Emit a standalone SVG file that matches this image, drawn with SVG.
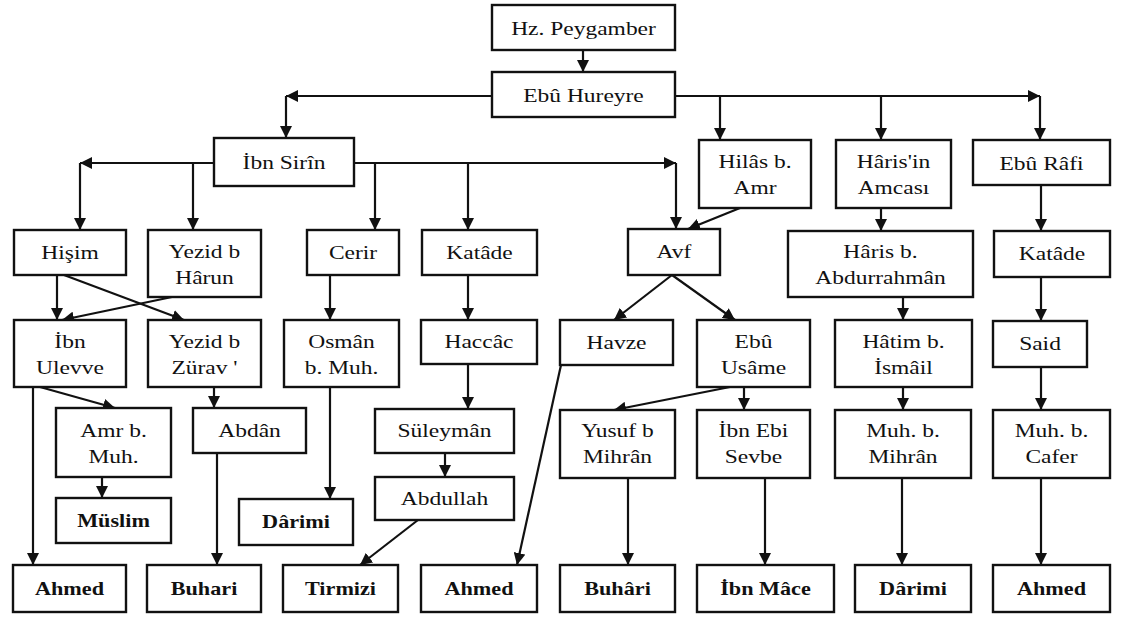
<svg xmlns="http://www.w3.org/2000/svg" width="1125" height="619" viewBox="0 0 1125 619">
  <style>
    .box { fill: #fff; stroke: #111; stroke-width: 2.4; }
    .t { font-family: "Liberation Serif", "Times New Roman", serif; font-size: 18.5px; fill: #111; text-anchor: middle; }
    .b { font-weight: bold; }
    .edge { fill: none; stroke: #111; stroke-width: 2.2; }
  </style>
  <defs>
    <marker id="arrow" viewBox="0 0 10 10" refX="10" refY="5" markerWidth="12" markerHeight="12" markerUnits="userSpaceOnUse" orient="auto">
      <path d="M0,0 L10,5 L0,10 z" fill="#111"/>
    </marker>
  </defs>
  <rect width="1125" height="619" fill="#fff"/>

  <!-- connectors -->
  <g id="connectors" class="edge" marker-end="url(#arrow)">
    <line x1="583" y1="50" x2="583" y2="72"/>
    <line x1="492" y1="96" x2="286" y2="96"/>
    <line x1="286" y1="96" x2="286" y2="138"/>
    <line x1="675" y1="96" x2="1040" y2="96"/>
    <line x1="1040" y1="96" x2="1040" y2="140"/>
    <line x1="720" y1="96" x2="720" y2="140"/>
    <line x1="881" y1="96" x2="881" y2="140"/>

    <line x1="214" y1="163" x2="80" y2="163"/>
    <line x1="80" y1="163" x2="80" y2="230"/>
    <line x1="193" y1="163" x2="193" y2="230"/>
    <line x1="354" y1="163" x2="676" y2="163"/>
    <line x1="676" y1="163" x2="676" y2="229"/>
    <line x1="375" y1="163" x2="375" y2="230"/>
    <line x1="468" y1="163" x2="468" y2="230"/>

    <line x1="740" y1="208" x2="688" y2="229"/>
    <line x1="881" y1="208" x2="881" y2="231"/>
    <line x1="1041" y1="185" x2="1041" y2="231"/>

    <line x1="57" y1="275" x2="57" y2="320"/>
    <line x1="64" y1="275" x2="184" y2="320"/>
    <line x1="172" y1="297" x2="62" y2="320"/>
    <line x1="330" y1="275" x2="330" y2="320"/>
    <line x1="468" y1="275" x2="468" y2="320"/>
    <line x1="672" y1="275" x2="614" y2="320"/>
    <line x1="672" y1="275" x2="735" y2="320"/>
    <line x1="903" y1="297" x2="903" y2="320"/>
    <line x1="1041" y1="277" x2="1041" y2="321"/>

    <line x1="33" y1="387" x2="33" y2="565"/>
    <line x1="40" y1="387" x2="115" y2="408"/>
    <line x1="214" y1="387" x2="214" y2="408"/>
    <line x1="330" y1="387" x2="330" y2="499"/>
    <line x1="468" y1="364" x2="468" y2="409"/>
    <line x1="561" y1="365" x2="517" y2="565"/>
    <line x1="730" y1="387" x2="614" y2="410"/>
    <line x1="744" y1="387" x2="744" y2="410"/>
    <line x1="903" y1="387" x2="903" y2="410"/>
    <line x1="1041" y1="367" x2="1041" y2="410"/>

    <line x1="102" y1="477" x2="102" y2="498"/>
    <line x1="217" y1="453" x2="217" y2="565"/>
    <line x1="445" y1="453" x2="445" y2="477"/>
    <line x1="418" y1="520" x2="360" y2="565"/>
    <line x1="628" y1="478" x2="628" y2="565"/>
    <line x1="765" y1="478" x2="765" y2="565"/>
    <line x1="902" y1="478" x2="902" y2="565"/>
    <line x1="1041" y1="478" x2="1041" y2="565"/>
  </g>

  <!-- level 0-1 -->
  <g id="hz-peygamber"><rect class="box" x="492" y="5" width="183" height="45"/>
    <text class="t" transform="translate(583.5,35) scale(1.27,1)">Hz. Peygamber</text></g>
  <g id="ebu-hureyre"><rect class="box" x="492" y="72" width="183" height="45"/>
    <text class="t" transform="translate(583.5,102) scale(1.27,1)">Ebû Hureyre</text></g>

  <!-- level 2 -->
  <g id="ibn-sirin"><rect class="box" x="214" y="138" width="140" height="48"/>
    <text class="t" transform="translate(284,169) scale(1.27,1)">İbn Sirîn</text></g>
  <g id="hilas"><rect class="box" x="699" y="140" width="112" height="68"/>
    <text class="t" transform="translate(755,168) scale(1.27,1)">Hilâs b.</text>
    <text class="t" transform="translate(755,194) scale(1.27,1)">Amr</text></g>
  <g id="haris-amcasi"><rect class="box" x="836" y="140" width="115" height="68"/>
    <text class="t" transform="translate(893.5,168) scale(1.27,1)">Hâris'in</text>
    <text class="t" transform="translate(893.5,194) scale(1.27,1)">Amcası</text></g>
  <g id="ebu-rafi"><rect class="box" x="973" y="140" width="137" height="45"/>
    <text class="t" transform="translate(1041.5,170) scale(1.27,1)">Ebû Râfi</text></g>

  <!-- level 3 -->
  <g id="hisim"><rect class="box" x="14" y="230" width="112" height="45"/>
    <text class="t" transform="translate(70,259) scale(1.27,1)">Hişim</text></g>
  <g id="yezid-harun"><rect class="box" x="148" y="230" width="113" height="67"/>
    <text class="t" transform="translate(204.5,258) scale(1.27,1)">Yezid b</text>
    <text class="t" transform="translate(204.5,284) scale(1.27,1)">Hârun</text></g>
  <g id="cerir"><rect class="box" x="307" y="230" width="92" height="45"/>
    <text class="t" transform="translate(353,259) scale(1.27,1)">Cerir</text></g>
  <g id="katade-1"><rect class="box" x="422" y="230" width="115" height="45"/>
    <text class="t" transform="translate(479.5,259) scale(1.27,1)">Katâde</text></g>
  <g id="avf"><rect class="box" x="628" y="229" width="92" height="46"/>
    <text class="t" transform="translate(674,258) scale(1.27,1)">Avf</text></g>
  <g id="haris-abdurrahman"><rect class="box" x="788" y="231" width="185" height="66"/>
    <text class="t" transform="translate(880.5,258) scale(1.27,1)">Hâris b.</text>
    <text class="t" transform="translate(880.5,284) scale(1.27,1)">Abdurrahmân</text></g>
  <g id="katade-2"><rect class="box" x="994" y="231" width="116" height="46"/>
    <text class="t" transform="translate(1052,260) scale(1.27,1)">Katâde</text></g>

  <!-- level 4 -->
  <g id="ibn-ulevve"><rect class="box" x="14" y="320" width="112" height="67"/>
    <text class="t" transform="translate(70,348) scale(1.27,1)">İbn</text>
    <text class="t" transform="translate(70,374) scale(1.27,1)">Ulevve</text></g>
  <g id="yezid-zurav"><rect class="box" x="148" y="320" width="113" height="67"/>
    <text class="t" transform="translate(204.5,348) scale(1.27,1)">Yezid b</text>
    <text class="t" transform="translate(204.5,374) scale(1.27,1)">Zürav '</text></g>
  <g id="osman"><rect class="box" x="284" y="320" width="115" height="67"/>
    <text class="t" transform="translate(341.5,348) scale(1.27,1)">Osmân</text>
    <text class="t" transform="translate(341.5,374) scale(1.27,1)">b. Muh.</text></g>
  <g id="haccac"><rect class="box" x="421" y="320" width="116" height="44"/>
    <text class="t" transform="translate(479,348) scale(1.27,1)">Haccâc</text></g>
  <g id="havze"><rect class="box" x="560" y="320" width="113" height="45"/>
    <text class="t" transform="translate(616.5,349) scale(1.27,1)">Havze</text></g>
  <g id="ebu-usame"><rect class="box" x="697" y="320" width="113" height="67"/>
    <text class="t" transform="translate(753.5,348) scale(1.27,1)">Ebû</text>
    <text class="t" transform="translate(753.5,374) scale(1.27,1)">Usâme</text></g>
  <g id="hatim"><rect class="box" x="835" y="320" width="137" height="67"/>
    <text class="t" transform="translate(903.5,348) scale(1.27,1)">Hâtim b.</text>
    <text class="t" transform="translate(903.5,374) scale(1.27,1)">İsmâil</text></g>
  <g id="said"><rect class="box" x="993" y="321" width="94" height="46"/>
    <text class="t" transform="translate(1040,350) scale(1.27,1)">Said</text></g>

  <!-- level 5 -->
  <g id="amr-muh"><rect class="box" x="56" y="408" width="115" height="69"/>
    <text class="t" transform="translate(113.5,437) scale(1.27,1)">Amr b.</text>
    <text class="t" transform="translate(113.5,463) scale(1.27,1)">Muh.</text></g>
  <g id="abdan"><rect class="box" x="193" y="408" width="113" height="45"/>
    <text class="t" transform="translate(249.5,437) scale(1.27,1)">Abdân</text></g>
  <g id="suleyman"><rect class="box" x="375" y="409" width="139" height="44"/>
    <text class="t" transform="translate(444.5,437) scale(1.27,1)">Süleymân</text></g>
  <g id="yusuf"><rect class="box" x="560" y="410" width="115" height="68"/>
    <text class="t" transform="translate(617.5,437) scale(1.27,1)">Yusuf b</text>
    <text class="t" transform="translate(617.5,463) scale(1.27,1)">Mihrân</text></g>
  <g id="ibn-ebi-sevbe"><rect class="box" x="697" y="410" width="113" height="68"/>
    <text class="t" transform="translate(753.5,437) scale(1.27,1)">İbn Ebi</text>
    <text class="t" transform="translate(753.5,463) scale(1.27,1)">Sevbe</text></g>
  <g id="muh-mihran"><rect class="box" x="835" y="410" width="136" height="68"/>
    <text class="t" transform="translate(903,437) scale(1.27,1)">Muh. b.</text>
    <text class="t" transform="translate(903,463) scale(1.27,1)">Mihrân</text></g>
  <g id="muh-cafer"><rect class="box" x="993" y="410" width="117" height="68"/>
    <text class="t" transform="translate(1051.5,437) scale(1.27,1)">Muh. b.</text>
    <text class="t" transform="translate(1051.5,463) scale(1.27,1)">Cafer</text></g>

  <!-- level 6 -->
  <g id="muslim"><rect class="box" x="56" y="498" width="115" height="45"/>
    <text class="t b" transform="translate(113.5,527) scale(1.2,1)">Müslim</text></g>
  <g id="darimi-1"><rect class="box" x="239" y="499" width="114" height="46"/>
    <text class="t b" transform="translate(296,528) scale(1.2,1)">Dârimi</text></g>
  <g id="abdullah"><rect class="box" x="375" y="477" width="139" height="43"/>
    <text class="t" transform="translate(444.5,505) scale(1.27,1)">Abdullah</text></g>

  <!-- collectors -->
  <g id="ahmed-1"><rect class="box" x="13" y="565" width="113" height="47"/>
    <text class="t b" transform="translate(69.5,595) scale(1.2,1)">Ahmed</text></g>
  <g id="buhari-1"><rect class="box" x="147" y="565" width="114" height="47"/>
    <text class="t b" transform="translate(204,595) scale(1.2,1)">Buhari</text></g>
  <g id="tirmizi"><rect class="box" x="283" y="565" width="115" height="47"/>
    <text class="t b" transform="translate(340.5,595) scale(1.2,1)">Tirmizi</text></g>
  <g id="ahmed-2"><rect class="box" x="421" y="565" width="116" height="47"/>
    <text class="t b" transform="translate(479,595) scale(1.2,1)">Ahmed</text></g>
  <g id="buhari-2"><rect class="box" x="560" y="565" width="115" height="47"/>
    <text class="t b" transform="translate(617.5,595) scale(1.2,1)">Buhâri</text></g>
  <g id="ibn-mace"><rect class="box" x="697" y="565" width="137" height="47"/>
    <text class="t b" transform="translate(765.5,595) scale(1.2,1)">İbn Mâce</text></g>
  <g id="darimi-2"><rect class="box" x="855" y="565" width="116" height="47"/>
    <text class="t b" transform="translate(913,595) scale(1.2,1)">Dârimi</text></g>
  <g id="ahmed-3"><rect class="box" x="993" y="565" width="117" height="47"/>
    <text class="t b" transform="translate(1051.5,595) scale(1.2,1)">Ahmed</text></g>
</svg>
